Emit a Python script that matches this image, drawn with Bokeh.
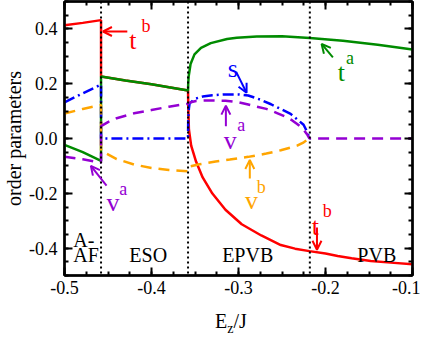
import numpy as np
from bokeh.plotting import figure
from bokeh.layouts import column
from bokeh.models import Range1d, LinearAxis, FixedTicker, Span, Label, Arrow, OpenHead, Div
from bokeh.embed import file_html
from bokeh.resources import INLINE

# ---------------- data ----------------
x_ticks = [-0.5, -0.4, -0.3, -0.2, -0.1]
x_tick_labels = ["-0.5", "-0.4", "-0.3", "-0.2", "-0.1"]
y_ticks = [-0.4, -0.2, 0.0, 0.2, 0.4]
y_tick_labels = ["-0.4", "-0.2", "0.0", "0.2", "0.4"]

phase_bounds = [-0.458, -0.358, -0.218]

# t^b (red)
tb_x = [-0.5, -0.479, -0.458, -0.458, -0.43, -0.40, -0.38, -0.358, -0.3578, -0.3575,
        -0.357, -0.3544, -0.3488, -0.3412, -0.33, -0.315, -0.2963, -0.2738, -0.2514,
        -0.235, -0.2185, -0.2, -0.186, -0.17, -0.148, -0.125, -0.1]
tb_y = [0.413, 0.422, 0.432, 0.226, 0.212, 0.198, 0.187, 0.175, 0.13, 0.091,
        0.033, -0.026, -0.084, -0.142, -0.201, -0.26, -0.313, -0.354, -0.389,
        -0.402, -0.411, -0.42, -0.429, -0.437, -0.447, -0.453, -0.459]

# t^a (green)
ta_x = [-0.5, -0.479, -0.458, -0.458, -0.43, -0.40, -0.38, -0.358, -0.3578, -0.3573,
        -0.3551, -0.3506, -0.3431, -0.3319, -0.3131, -0.302, -0.279, -0.25, -0.218,
        -0.18, -0.14, -0.1]
ta_y = [-0.023, -0.05, -0.082, 0.226, 0.212, 0.198, 0.187, 0.175, 0.20, 0.226,
        0.272, 0.307, 0.331, 0.348, 0.363, 0.368, 0.372, 0.373, 0.367,
        0.357, 0.342, 0.325]

# s (blue)
s_x = [-0.5, -0.479, -0.458, -0.458, -0.358, -0.3578, -0.357, -0.3562, -0.35, -0.3412,
       -0.33, -0.315, -0.30, -0.2888, -0.275, -0.2626, -0.2401, -0.2252, -0.2205, -0.2185]
s_y = [0.132, 0.165, 0.197, 0.0, 0.0, 0.07, 0.11, 0.128, 0.145, 0.153,
       0.158, 0.161, 0.161, 0.157, 0.142, 0.125, 0.09, 0.05, 0.02, 0.0]

# v^b (orange)
vb_x = [-0.5, -0.479, -0.458, -0.458, -0.44, -0.42, -0.40, -0.38, -0.358, -0.3562,
        -0.345, -0.3263, -0.31, -0.2888, -0.268, -0.2514, -0.2326, -0.225, -0.2185]
vb_y = [0.091, 0.108, 0.122, -0.045, -0.075, -0.095, -0.108, -0.115, -0.12, -0.102,
        -0.094, -0.084, -0.077, -0.067, -0.055, -0.043, -0.026, -0.014, 0.0]

# v^a (purple)
va_x = [-0.5, -0.479, -0.458, -0.458, -0.45, -0.44, -0.42, -0.40, -0.38, -0.358,
        -0.355, -0.3488, -0.335, -0.315, -0.30, -0.2888, -0.28, -0.268, -0.2607,
        -0.255, -0.2457, -0.2382, -0.2326, -0.227, -0.2213, -0.2185, -0.1]
va_y = [-0.067, -0.076, -0.088, 0.045, 0.06, 0.074, 0.092, 0.104, 0.116, 0.127,
        0.132, 0.137, 0.139, 0.138, 0.132, 0.124, 0.117, 0.108, 0.10,
        0.092, 0.079, 0.066, 0.053, 0.039, 0.016, 0.0, 0.0]

# ---------------- styling ----------------
FONT = "Liberation Serif"
RED, GREEN, BLUE, ORANGE, PURPLE = "#ff0000", "#008b00", "#0000ff", "#ffa500", "#9400d3"

p = figure(width=420, height=301, x_range=Range1d(-0.5, -0.1), y_range=Range1d(-0.5, 0.5),
           output_backend="svg", toolbar_location=None,
           min_border_left=56, min_border_right=8, min_border_top=1, min_border_bottom=26)
p.xgrid.visible = False
p.ygrid.visible = False
p.outline_line_color = "black"
p.outline_line_width = 2
p.background_fill_color = "white"
p.border_fill_color = "white"

x_minor = [round(v, 4) for v in np.arange(-0.5, -0.0999, 0.025)]
y_minor = [round(v, 4) for v in np.arange(-0.5, 0.5001, 0.05)]

p.add_layout(LinearAxis(), "above")
p.add_layout(LinearAxis(), "right")

for ax in p.axis:
    ax.major_tick_in = 8
    ax.major_tick_out = 0
    ax.minor_tick_in = 4
    ax.minor_tick_out = 0
    ax.major_tick_line_width = 2
    ax.minor_tick_line_width = 2
    ax.axis_line_width = 2.5
    ax.axis_line_color = "black"
    ax.major_tick_line_color = "black"
    ax.minor_tick_line_color = "black"
    ax.major_label_text_font = FONT
    ax.major_label_text_font_size = "18px"
    ax.major_label_text_font_style = "normal"
    ax.major_label_text_color = "black"

for ax in p.below + p.above:
    ax.ticker = FixedTicker(ticks=x_ticks, minor_ticks=x_minor)
    ax.major_label_overrides = dict(zip(x_ticks, x_tick_labels))
for ax in p.left + p.right:
    ax.ticker = FixedTicker(ticks=y_ticks, minor_ticks=y_minor)
    ax.major_label_overrides = dict(zip(y_ticks, y_tick_labels))

p.xaxis[0].major_label_standoff = 5
yax = p.yaxis[0]
yax.major_label_standoff = 7
yax.axis_label = "order parameters"
yax.axis_label_text_font = FONT
yax.axis_label_text_font_size = "20px"
yax.axis_label_text_font_style = "normal"
yax.axis_label_text_color = "black"
yax.axis_label_standoff = 1

# mirrored tick axes (top / right): ticks only, empty labels
for ax in p.above + p.right:
    ticks = x_ticks if ax in p.above else y_ticks
    ax.major_label_overrides = {t: "" for t in ticks}
    ax.major_label_text_font_size = "1px"
    ax.major_label_standoff = 0

# ---------------- curves ----------------
LW = 2.5
p.line(tb_x, tb_y, line_color=RED, line_width=LW)
p.line(ta_x, ta_y, line_color=GREEN, line_width=LW)
p.line(s_x, s_y, line_color=BLUE, line_width=LW, line_dash="11 4 2 4")
p.line(vb_x, vb_y, line_color=ORANGE, line_width=LW, line_dash="11 7")
p.line(va_x, va_y, line_color=PURPLE, line_width=LW, line_dash="11 7")

for xb in phase_bounds:
    p.add_layout(Span(location=xb, dimension="height", line_color="black",
                      line_width=2, line_dash="2 3"))

# ---------------- annotations ----------------
def lab(fig, x, y, text, size, color="black"):
    fig.add_layout(Label(x=x, y=y, text=text, text_font=FONT, text_font_size=size,
                         text_color=color, text_align="left",
                         text_baseline="alphabetic"))

def arr(x0, y0, x1, y1, color):
    p.add_layout(Arrow(end=OpenHead(size=9, line_color=color, line_width=2),
                       x_start=x0, y_start=y0, x_end=x1, y_end=y1,
                       line_color=color, line_width=2))

BIG, SUP = "26px", "18px"
# t^b top
lab(p, -0.4255, 0.357, "t", BIG, RED); lab(p, -0.4115, 0.41, "b", SUP, RED)
arr(-0.4278, 0.3905, -0.4558, 0.3905, RED)
# t^a
lab(p, -0.1858, 0.241, "t", BIG, GREEN); lab(p, -0.1765, 0.292, "a", SUP, GREEN)
arr(-0.1915, 0.296, -0.2045, 0.345, GREEN)
# s
lab(p, -0.3124, 0.256, "s", BIG, BLUE)
arr(-0.3027, 0.243, -0.2907, 0.167, BLUE)
# v^a middle
lab(p, -0.3169, -0.006, "v", BIG, PURPLE); lab(p, -0.3015, 0.048, "a", SUP, PURPLE)
arr(-0.3145, 0.045, -0.3145, 0.12, PURPLE)
# v^a lower left
lab(p, -0.4517, -0.2325, "v", BIG, PURPLE); lab(p, -0.4372, -0.184, "a", SUP, PURPLE)
arr(-0.4517, -0.172, -0.4697, -0.0996, PURPLE)
# v^b
lab(p, -0.2926, -0.2266, "v", BIG, ORANGE); lab(p, -0.2791, -0.176, "b", SUP, ORANGE)
arr(-0.287, -0.146, -0.287, -0.0786, ORANGE)
# t^b bottom
lab(p, -0.2157, -0.32, "t", BIG, RED); lab(p, -0.2032, -0.264, "b", SUP, RED)
arr(-0.2098, -0.325, -0.2098, -0.406, RED)

# phase names
lab(p, -0.4899, -0.371, "A-", "20px")
lab(p, -0.4899, -0.427, "AF", "20px")
lab(p, -0.4255, -0.427, "ESO", "20px")
lab(p, -0.3188, -0.427, "EPVB", "20px")
lab(p, -0.1634, -0.427, "PVB", "20px")

# ---------------- x-axis title (HTML text, with a real subscript) ----------------
xtitle = Div(
    text=('<div style="padding-left:215px;padding-top:11px;font-family:\'Liberation Serif\';'
          'font-size:20px;line-height:19px;color:black;white-space:nowrap">'
          'E<sub style="font-size:14px;line-height:0;vertical-align:-5px">z</sub>/J</div>'),
    width=420, height=23, margin=(0, 0, 0, 0))

layout = column(p, xtitle, spacing=0)
open("out.html", "w").write(file_html(layout, INLINE))
